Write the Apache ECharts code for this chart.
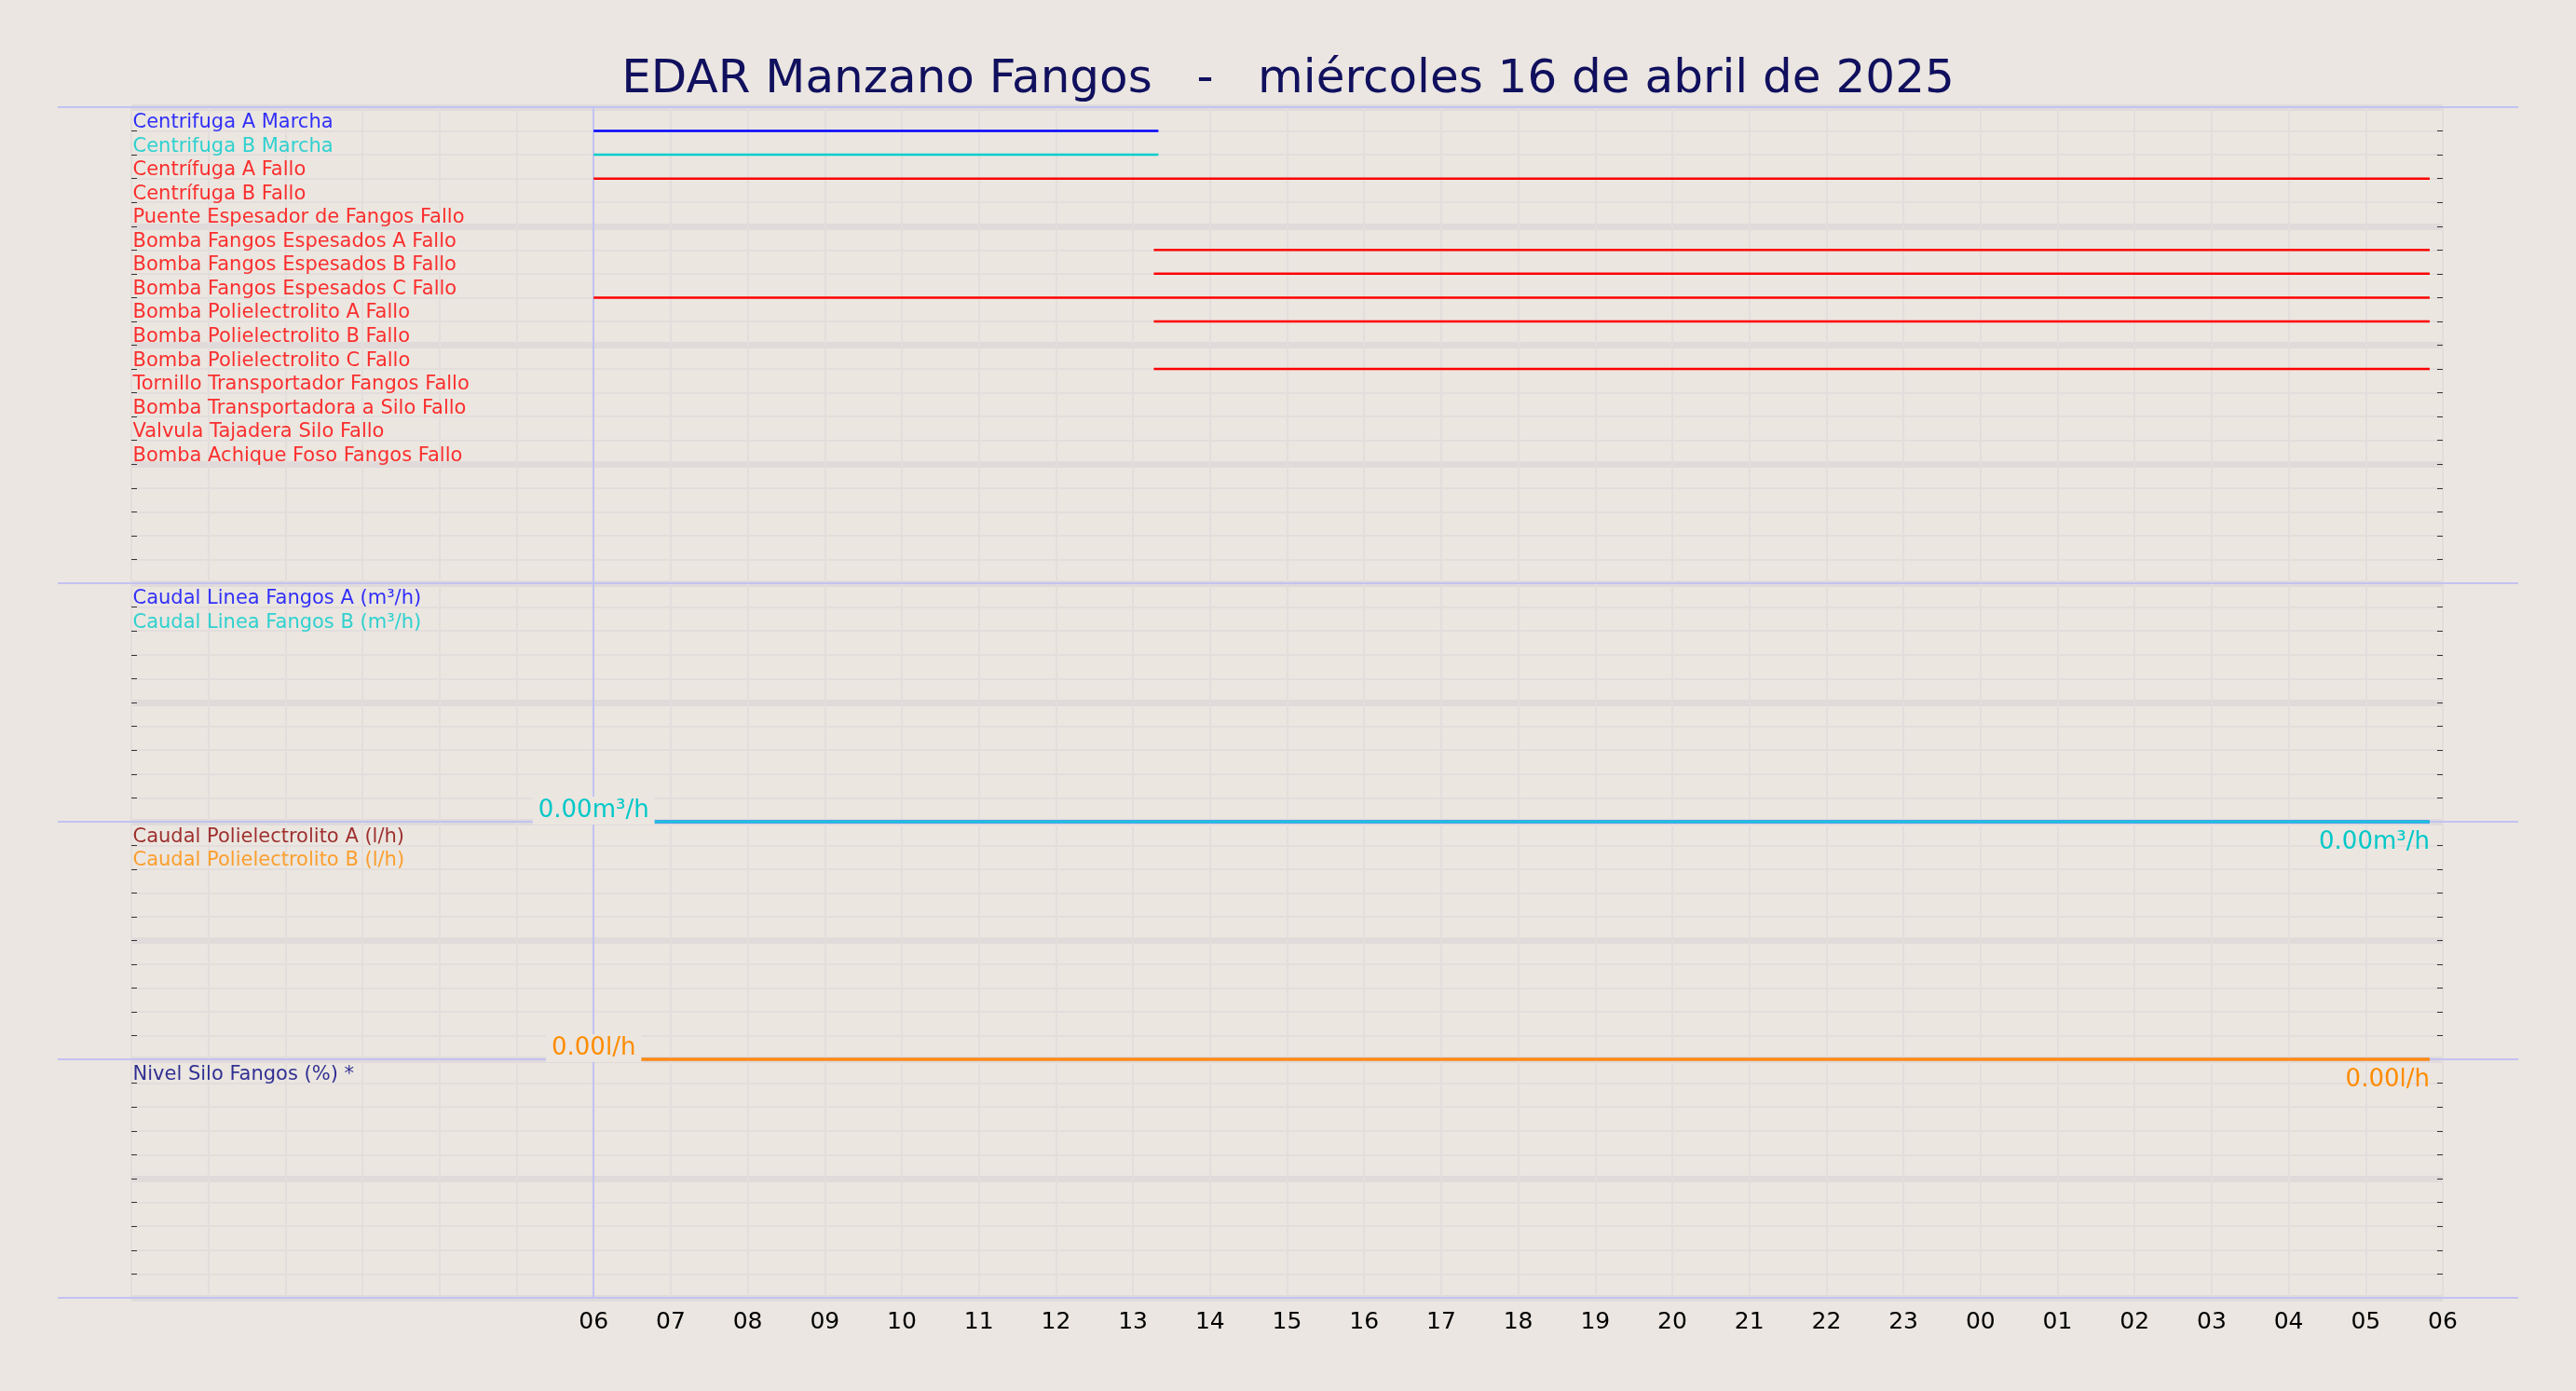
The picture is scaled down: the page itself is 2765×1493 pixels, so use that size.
<!DOCTYPE html>
<html>
<head>
<meta charset="utf-8">
<script src="https://cdn.jsdelivr.net/npm/echarts@6/dist/echarts.min.js"></script>
<style>
html, body { margin: 0; padding: 0; background: #ebe6e1; }
#chart { width: 2765px; height: 1493px; }
</style>
</head>
<body>
<div id="chart"></div>
<script>
'use strict';
// horas desde las 00:00 del dia 16 (eje 0..30)
const tituloTexto = 'EDAR Manzano Fangos   -   miércoles 16 de abril de 2025';

// panel 1: señales digitales
const senalesNombres = [
    'Centrifuga A Marcha', 'Centrifuga B Marcha', 'Centrífuga A Fallo', 'Centrífuga B Fallo',
    'Puente Espesador de Fangos Fallo', 'Bomba Fangos Espesados A Fallo', 'Bomba Fangos Espesados B Fallo',
    'Bomba Fangos Espesados C Fallo', 'Bomba Polielectrolito A Fallo', 'Bomba Polielectrolito B Fallo',
    'Bomba Polielectrolito C Fallo', 'Tornillo Transportador Fangos Fallo', 'Bomba Transportadora a Silo Fallo',
    'Valvula Tajadera Silo Fallo', 'Bomba Achique Foso Fangos Fallo'
];
const senalesColores = ['#0000ff', '#00cccc', '#ff0000', '#ff0000', '#ff0000', '#ff0000', '#ff0000',
    '#ff0000', '#ff0000', '#ff0000', '#ff0000', '#ff0000', '#ff0000', '#ff0000', '#ff0000'];
// tramos activos [inicio, fin] en horas
const senalesTramos = [
    [[6, 13.33]], [[6, 13.33]], [[6, 29.83]], [], [],
    [[13.27, 29.83]], [[13.27, 29.83]], [[6, 29.83]], [[13.27, 29.83]], [],
    [[13.27, 29.83]], [], [], [], []
];

// paneles analógicos
const caudalFangosNombres = ['Caudal Linea Fangos A (m³/h)', 'Caudal Linea Fangos B (m³/h)'];
const caudalFangosColores = ['#0000ff', '#00cccc'];
const caudalFangosValores = [[[6, 0], [29.83, 0]], [[6, 0], [29.83, 0]]];
const caudalPoliNombres = ['Caudal Polielectrolito A (l/h)', 'Caudal Polielectrolito B (l/h)'];
const caudalPoliColores = ['#8b0000', '#ff8c00'];
const caudalPoliValores = [[[6, 0], [29.83, 0]], [[6, 0], [29.83, 0]]];
const nivelSiloNombres = ['Nivel Silo Fangos (%) *'];
const nivelSiloColores = ['#000080'];

const horaInicio = 0, horaFin = 30;

const fondo = '#ebe6e0';
const gridFina = '#e3dedc';
const gridGruesa = '#e0dbda';
const bordeAzul = '#c2c2f2';

const panelTops = [115, 626, 882, 1137];
const panelAlturas = [511, 256, 255, 256];
const panelFilas = [20, 10, 10, 10];
const izq = 141, der = 2765 - 2622;

const grids = [], xAxes = [], yAxes = [], series = [];

panelTops.forEach((top, g) => {
    grids.push({ left: izq, right: der, top: top, height: panelAlturas[g], show: true, backgroundColor: fondo, borderWidth: 0 });
    xAxes.push({
        type: 'value', gridIndex: g, min: horaInicio, max: horaFin, interval: 1,
        axisLine: { show: false }, axisTick: { show: false },
        axisLabel: {
            show: g === 3, color: '#000', fontSize: 25, margin: 14,
            fontFamily: 'DejaVu Sans',
            formatter: v => v >= 6 ? String(v % 24).padStart(2, '0') : ''
        },
        splitLine: { show: true, lineStyle: { color: gridFina, width: 2 } }
    });
    yAxes.push({
        type: 'value', gridIndex: g, min: 0, max: panelFilas[g], interval: 1, inverse: g === 0,
        axisLine: { show: false }, axisLabel: { show: false },
        axisTick: { show: true, inside: true, length: 6, lineStyle: { color: '#333', width: 1 } },
        splitLine: { show: true, lineStyle: { color: gridFina, width: 2 } }
    });
    yAxes.push({
        type: 'value', gridIndex: g, min: 0, max: panelFilas[g], interval: 5, inverse: g === 0,
        position: 'right',
        axisLine: { show: false }, axisLabel: { show: false },
        axisTick: { show: true, inside: true, length: 6, lineStyle: { color: '#333', width: 1 } },
        minorTick: { show: true, splitNumber: 5, length: 6, lineStyle: { color: '#333', width: 1 } },
        splitLine: { show: true, lineStyle: { color: gridGruesa, width: 7 } }
    });
    // linea vertical de las 06
    series.push({
        type: 'line', xAxisIndex: g, yAxisIndex: g * 2, data: [], silent: true,
        markLine: {
            silent: true, symbol: 'none', label: { show: false },
            lineStyle: { color: bordeAzul, width: 2, type: 'solid' },
            data: [{ xAxis: 6 }]
        }
    });
});

function etiquetas(g, nombres, colores, inverso) {
    nombres.forEach((n, i) => {
        const fila = inverso ? i + 1 : panelFilas[g] - i - 1;
        series.push({
            type: 'scatter', xAxisIndex: g, yAxisIndex: g * 2, symbolSize: 1, silent: true, z: 15,
            itemStyle: { color: 'transparent' },
            data: [[0, fila]],
            label: {
                show: true, formatter: n, color: colores[i], fontSize: 21, fontFamily: 'DejaVu Sans',
                position: [2, 2], align: 'left', verticalAlign: 'bottom'
            }
        });
    });
}

// panel 1
senalesTramos.forEach((tramos, i) => {
    tramos.forEach(t => {
        series.push({
            type: 'line', xAxisIndex: 0, yAxisIndex: 0, symbol: 'none', silent: true, z: 12,
            lineStyle: { color: senalesColores[i], width: 2.5 },
            data: [[t[0], i + 1], [t[1], i + 1]]
        });
    });
});
etiquetas(0, senalesNombres, senalesColores, true);

function analogico(g, valores, colores, unidad, colorTxt) {
    valores.forEach((datos, i) => {
        const d = datos.map(p => ({ value: p }));
        if (i === valores.length - 1) {
            d[0].label = {
                show: true, position: 'inside', offset: [0, -12], color: colorTxt, fontSize: 26,
                fontFamily: 'DejaVu Sans', backgroundColor: fondo, padding: [2, 6],
                formatter: p => p.value[1].toFixed(2) + unidad
            };
            d[d.length - 1].label = {
                show: true, position: 'bottom', align: 'right', offset: [0, 4], color: colorTxt, fontSize: 26,
                fontFamily: 'DejaVu Sans',
                formatter: p => p.value[1].toFixed(2) + unidad
            };
        }
        series.push({
            type: 'line', xAxisIndex: g, yAxisIndex: g * 2, symbol: 'circle', symbolSize: 0,
            showSymbol: true, silent: true, z: 20 + i,
            itemStyle: { color: colores[i] },
            lineStyle: { color: colores[i], width: i === 0 ? 4 : 2 },
            label: { show: false },
            data: d
        });
    });
}
analogico(1, caudalFangosValores, ['#4aa0f0', '#19c3d6'], 'm³/h', '#00c8c8');
etiquetas(1, caudalFangosNombres, caudalFangosColores, false);
analogico(2, caudalPoliValores, ['#f09a5a', '#ff8c00'], 'l/h', '#ff8c00');
etiquetas(2, caudalPoliNombres, caudalPoliColores, false);
etiquetas(3, nivelSiloNombres, nivelSiloColores, false);

const bordes = [115, 626, 882, 1137, 1393].map(y => ({
    type: 'line', silent: true, z: 5,
    shape: { x1: 62, y1: y, x2: 2703, y2: y },
    style: { stroke: bordeAzul, lineWidth: 2 }
}));

const chart = echarts.init(document.getElementById('chart'));
chart.setOption({
    backgroundColor: '#ebe6e1',
    animation: false,
    title: {
        text: tituloTexto, left: 'center', top: 56,
        textStyle: { color: '#10105e', fontSize: 50, fontWeight: 'normal', fontFamily: 'DejaVu Sans' }
    },
    grid: grids,
    xAxis: xAxes,
    yAxis: yAxes,
    graphic: bordes,
    series: series
});
</script>
</body>
</html>
